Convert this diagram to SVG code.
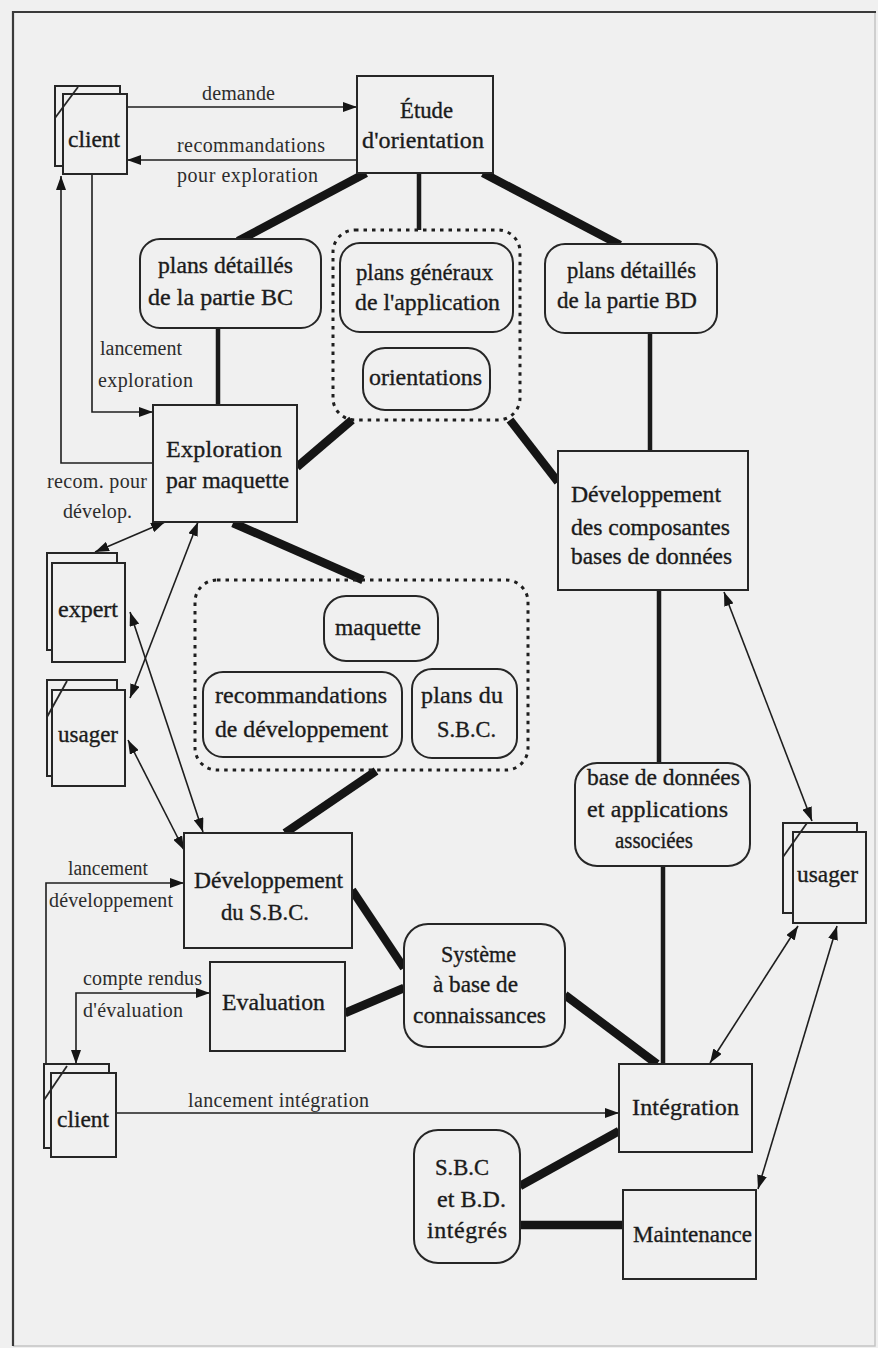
<svg xmlns="http://www.w3.org/2000/svg" width="878" height="1348" viewBox="0 0 878 1348">
<style>
.bg{fill:#f0f0f0}
.frame{fill:none;stroke:#3a3a3a;stroke-width:2.2}
.frame2{fill:none;stroke:#c4c4c4;stroke-width:1.5}
.box{fill:#f0f0f0;stroke:#262626;stroke-width:2}
.rbox{fill:#f0f0f0;stroke:#262626;stroke-width:2}
.grp{fill:none;stroke:#1e1e1e;stroke-width:3;stroke-dasharray:3.5 5}
.doc{fill:#f0f0f0;stroke:#262626;stroke-width:2}
.slash{fill:none;stroke:#262626;stroke-width:1.8}
.n{font-family:"Liberation Serif","Times New Roman",serif;font-size:24px;fill:#1b1b1b;stroke:#1b1b1b;stroke-width:0.35}
.l{font-family:"Liberation Serif","Times New Roman",serif;font-size:20px;fill:#2c2c2c}
.thin{fill:none;stroke:#1e1e1e;stroke-width:1.6}
.med{fill:none;stroke:#1a1a1a;stroke-width:4.5}
.thick{fill:none;stroke:#151515;stroke-width:8.5}
</style>
<defs>
<marker id="ah" viewBox="0 0 14 10" refX="14" refY="5" markerWidth="14" markerHeight="10" markerUnits="userSpaceOnUse" orient="auto-start-reverse">
<path d="M0,0 L14,5 L0,10 z" fill="#151515"/>
</marker>
</defs>
<rect class="bg" x="0" y="0" width="878" height="1348"/>
<path class="frame2" d="M875,12 V1346 H13"/>
<path class="frame" d="M13,1346 V12 H876"/>

<g id="connectors">
<path class="thin" d="M127,107 H357" marker-end="url(#ah)"/>
<path class="thin" d="M357,160 H127" marker-end="url(#ah)"/>
<path class="thin" d="M92,174 V412 H153" marker-end="url(#ah)"/>
<path class="thin" d="M153,463 H61 V176" marker-end="url(#ah)"/>
<path class="thin" d="M46,1064 V883 H184" marker-end="url(#ah)"/>
<path class="thin" d="M210,993 H76 V1064" marker-start="url(#ah)" marker-end="url(#ah)"/>
<path class="thin" d="M116,1113 H619" marker-end="url(#ah)"/>
<path class="thin" d="M165,522 L95,552" marker-start="url(#ah)" marker-end="url(#ah)"/>
<path class="thin" d="M198,522 L130,698" marker-start="url(#ah)" marker-end="url(#ah)"/>
<path class="thin" d="M130,612 L203,832" marker-start="url(#ah)" marker-end="url(#ah)"/>
<path class="thin" d="M128,740 L184,850" marker-start="url(#ah)" marker-end="url(#ah)"/>
<path class="thin" d="M724,592 L812,821" marker-start="url(#ah)" marker-end="url(#ah)"/>
<path class="thin" d="M798,926 L710,1063" marker-start="url(#ah)" marker-end="url(#ah)"/>
<path class="thin" d="M837,926 L758,1189" marker-start="url(#ah)" marker-end="url(#ah)"/>
<path class="med" d="M419,173 V230"/>
<path class="med" d="M218,328 V405"/>
<path class="med" d="M650,333 V451"/>
<path class="med" d="M659,590 V763"/>
<path class="med" d="M663,866 V1064"/>
<path class="thick" d="M366,173 L238,241"/>
<path class="thick" d="M483,173 L620,245"/>
<path class="thick" d="M352,420 L297,467"/>
<path class="thick" d="M510,420 L558,482"/>
<path class="thick" d="M233,523 L363,580"/>
<path class="thick" d="M376,771 L285,833"/>
<path class="thick" d="M352,890 L404,968"/>
<path class="thick" d="M345,1013 L404,988"/>
<path class="thick" d="M565,995 L657,1064"/>
<path class="thick" d="M520,1186 L619,1131"/>
<path class="thick" d="M520,1225 H623"/>
</g>

<g id="labels">
<text class="l" x="202" y="100" textLength="73">demande</text>
<text class="l" x="177" y="152" textLength="148">recommandations</text>
<text class="l" x="177" y="182" textLength="141">pour exploration</text>
<text class="l" x="100" y="355" textLength="82">lancement</text>
<text class="l" x="98" y="387" textLength="95">exploration</text>
<text class="l" x="47" y="488" textLength="100">recom. pour</text>
<text class="l" x="63" y="518" textLength="69">dévelop.</text>
<text class="l" x="68" y="875" textLength="80" lengthAdjust="spacingAndGlyphs">lancement</text>
<text class="l" x="49" y="907" textLength="124">développement</text>
<text class="l" x="83" y="985" textLength="119">compte rendus</text>
<text class="l" x="83" y="1017" textLength="100">d'évaluation</text>
<text class="l" x="188" y="1107" textLength="181">lancement intégration</text>
</g>

<g id="client-top">
<rect class="doc" x="55" y="86" width="65" height="80"/>
<rect class="doc" x="63" y="94" width="64" height="80"/>
<line class="slash" x1="55" y1="118" x2="78" y2="87"/>
<text class="n" x="68" y="147" textLength="52" lengthAdjust="spacingAndGlyphs">client</text>
</g>

<g id="etude">
<rect class="box" x="357" y="76" width="136" height="97"/>
<text class="n" x="400" y="118" textLength="53" lengthAdjust="spacingAndGlyphs">Étude</text>
<text class="n" x="362" y="148" textLength="122">d'orientation</text>
</g>

<g id="plans-bc">
<rect class="rbox" x="140" y="239" width="181" height="89" rx="20"/>
<text class="n" x="158" y="273" textLength="135" lengthAdjust="spacingAndGlyphs">plans détaillés</text>
<text class="n" x="148" y="305" textLength="145">de la partie BC</text>
</g>

<g id="groupe-orientation">
<rect class="grp" x="333" y="230" width="187" height="190" rx="22"/>
<g id="plans-generaux">
<rect class="rbox" x="340" y="243" width="173" height="89" rx="20"/>
<text class="n" x="356" y="280" textLength="137" lengthAdjust="spacingAndGlyphs">plans généraux</text>
<text class="n" x="355" y="310" textLength="145" lengthAdjust="spacingAndGlyphs">de l'application</text>
</g>
<g id="orientations">
<rect class="rbox" x="363" y="348" width="127" height="62" rx="22"/>
<text class="n" x="369" y="385" textLength="113" lengthAdjust="spacingAndGlyphs">orientations</text>
</g>
</g>

<g id="plans-bd">
<rect class="rbox" x="545" y="244" width="172" height="89" rx="20"/>
<text class="n" x="567" y="278" textLength="129" lengthAdjust="spacingAndGlyphs">plans détaillés</text>
<text class="n" x="557" y="308" textLength="140" lengthAdjust="spacingAndGlyphs">de la partie BD</text>
</g>

<g id="exploration">
<rect class="box" x="153" y="405" width="144" height="117"/>
<text class="n" x="166" y="457" textLength="116">Exploration</text>
<text class="n" x="166" y="488" textLength="123" lengthAdjust="spacingAndGlyphs">par maquette</text>
</g>

<g id="dev-composantes">
<rect class="box" x="558" y="451" width="190" height="139"/>
<text class="n" x="571" y="502" textLength="150" lengthAdjust="spacingAndGlyphs">Développement</text>
<text class="n" x="571" y="535" textLength="159" lengthAdjust="spacingAndGlyphs">des composantes</text>
<text class="n" x="571" y="564" textLength="161" lengthAdjust="spacingAndGlyphs">bases de données</text>
</g>

<g id="expert">
<rect class="doc" x="47" y="553" width="70" height="97"/>
<rect class="doc" x="52" y="563" width="73" height="99"/>
<text class="n" x="58" y="617" textLength="60" lengthAdjust="spacingAndGlyphs">expert</text>
</g>

<g id="usager-gauche">
<rect class="doc" x="47" y="680" width="70" height="96"/>
<rect class="doc" x="52" y="690" width="73" height="96"/>
<line class="slash" x1="47" y1="717" x2="67" y2="681"/>
<text class="n" x="58" y="742" textLength="60" lengthAdjust="spacingAndGlyphs">usager</text>
</g>

<g id="groupe-maquette">
<rect class="grp" x="195" y="580" width="333" height="190" rx="22"/>
<g id="maquette">
<rect class="rbox" x="324" y="596" width="114" height="65" rx="22"/>
<text class="n" x="335" y="635" textLength="86" lengthAdjust="spacingAndGlyphs">maquette</text>
</g>
<g id="recommandations-dev">
<rect class="rbox" x="203" y="672" width="199" height="85" rx="20"/>
<text class="n" x="215" y="703" textLength="172">recommandations</text>
<text class="n" x="215" y="737" textLength="173" lengthAdjust="spacingAndGlyphs">de développement</text>
</g>
<g id="plans-sbc">
<rect class="rbox" x="412" y="669" width="105" height="89" rx="20"/>
<text class="n" x="421" y="703" textLength="82">plans du</text>
<text class="n" x="437" y="737" textLength="59" lengthAdjust="spacingAndGlyphs">S.B.C.</text>
</g>
</g>

<g id="bdd-applications">
<rect class="rbox" x="575" y="763" width="175" height="103" rx="22"/>
<text class="n" x="587" y="785" textLength="153" lengthAdjust="spacingAndGlyphs">base de données</text>
<text class="n" x="587" y="817" textLength="141">et applications</text>
<text class="n" x="615" y="848" textLength="78" lengthAdjust="spacingAndGlyphs">associées</text>
</g>

<g id="usager-droite">
<rect class="doc" x="783" y="823" width="74" height="90"/>
<rect class="doc" x="793" y="832" width="73" height="91"/>
<line class="slash" x1="783" y1="857" x2="807" y2="823"/>
<text class="n" x="797" y="882" textLength="61" lengthAdjust="spacingAndGlyphs">usager</text>
</g>

<g id="dev-sbc">
<rect class="box" x="184" y="833" width="168" height="115"/>
<text class="n" x="194" y="888" textLength="149" lengthAdjust="spacingAndGlyphs">Développement</text>
<text class="n" x="221" y="920" textLength="88" lengthAdjust="spacingAndGlyphs">du S.B.C.</text>
</g>

<g id="systeme">
<rect class="rbox" x="404" y="924" width="161" height="123" rx="24"/>
<text class="n" x="441" y="962" textLength="75" lengthAdjust="spacingAndGlyphs">Système</text>
<text class="n" x="433" y="992" textLength="85" lengthAdjust="spacingAndGlyphs">à base de</text>
<text class="n" x="413" y="1023" textLength="133" lengthAdjust="spacingAndGlyphs">connaissances</text>
</g>

<g id="evaluation">
<rect class="box" x="210" y="962" width="135" height="89"/>
<text class="n" x="222" y="1010" textLength="103" lengthAdjust="spacingAndGlyphs">Evaluation</text>
</g>

<g id="client-bas">
<rect class="doc" x="44" y="1064" width="65" height="84"/>
<rect class="doc" x="51" y="1073" width="65" height="84"/>
<line class="slash" x1="44" y1="1100" x2="67" y2="1066"/>
<text class="n" x="57" y="1127" textLength="52" lengthAdjust="spacingAndGlyphs">client</text>
</g>

<g id="integration">
<rect class="box" x="619" y="1064" width="133" height="88"/>
<text class="n" x="632" y="1115" textLength="107">Intégration</text>
</g>

<g id="sbc-bd">
<rect class="rbox" x="414" y="1130" width="106" height="133" rx="24"/>
<text class="n" x="435" y="1175" textLength="54" lengthAdjust="spacingAndGlyphs">S.B.C</text>
<text class="n" x="437" y="1207" textLength="69">et B.D.</text>
<text class="n" x="427" y="1238" textLength="80">intégrés</text>
</g>

<g id="maintenance">
<rect class="box" x="623" y="1190" width="133" height="89"/>
<text class="n" x="633" y="1242" textLength="119" lengthAdjust="spacingAndGlyphs">Maintenance</text>
</g>
</svg>
